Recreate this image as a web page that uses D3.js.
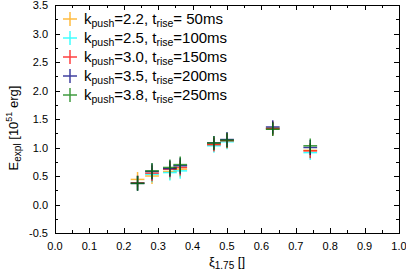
<!DOCTYPE html>
<html>
<head>
<meta charset="utf-8">
<script src="https://cdn.jsdelivr.net/npm/d3@7"></script>
<style>
  body { margin: 0; background: #fff; }
  svg { font-family: "Liberation Sans", Arial, sans-serif; }
</style>
</head>
<body>
<svg id="chart" width="406" height="271"></svg>
<script>
// compactness xi_1.75 of each progenitor
const xi = [0.240, 0.282, 0.334, 0.364, 0.462, 0.500, 0.633, 0.742]

const seriesNames = [
  ['2.2', '\u00a050'], ['2.5', '100'], ['3.0', '150'], ['3.5', '200'], ['3.8', '250']
]
const seriesColors = ['#ffa500', '#00ffff', '#ff0000', '#000080', '#007a00']

// explosion energies [10^51 erg], one list per (k_push, t_rise)
const eK22 = [0.44, 0.50, 0.58, 0.62, 1.06, 1.11, 1.34, 0.95]
const eK25 = [0.38, 0.53, 0.56, 0.59, 1.03, 1.10, 1.33, 0.91]
const eK30 = [0.38, 0.55, 0.62, 0.65, 1.05, 1.12, 1.33, 0.94]
const eK35 = [0.37, 0.58, 0.63, 0.68, 1.08, 1.14, 1.36, 1.00]
const eK38 = [0.37, 0.59, 0.65, 0.70, 1.08, 1.13, 1.32, 1.03]
const energies = [eK22, eK25, eK30, eK35, eK38]

const xErr = [0.02, 0.02, 0.02, 0.02, 0.02, 0.02, 0.02, 0.02]
const yErr = [0.13, 0.14, 0.14, 0.14, 0.12, 0.13, 0.12, 0.13]

const xTicks = [0, 0.1, 0.2, 0.3, 0.4, 0.5, 0.6, 0.7, 0.8, 0.9, 1.0]
const yTicks = [-0.5, 0, 0.5, 1.0, 1.5, 2.0, 2.5, 3.0, 3.5]

const svg = d3.select('#chart')
const margin = { left: 55, right: 7, top: 5, bottom: 38 }
const width = 406, height = 271

const x = d3.scaleLinear().domain([0, 1]).range([margin.left, width - margin.right])
const y = d3.scaleLinear().domain([-0.5, 3.5]).range([height - margin.bottom, margin.top])

// ticks on all four sides, pointing inward
const xMinor = d3.range(0, 1.0001, 0.05)
const yMinor = d3.range(-0.5, 3.5001, 0.25)
const ticks = svg.append('g').attr('stroke', '#000').attr('stroke-width', 1)

xMinor.forEach((v, i) => {
  const len = i % 2 === 0 ? 5 : 3
  const px = Math.round(x(v)) + 0.5
  ticks.append('line').attr('x1', px).attr('x2', px).attr('y1', y(-0.5)).attr('y2', y(-0.5) - len)
  ticks.append('line').attr('x1', px).attr('x2', px).attr('y1', y(3.5)).attr('y2', y(3.5) + len)
})
yMinor.forEach((v, i) => {
  const len = i % 2 === 0 ? 5 : 3
  const py = Math.round(y(v)) + 0.5
  ticks.append('line').attr('x1', x(0)).attr('x2', x(0) + len).attr('y1', py).attr('y2', py)
  ticks.append('line').attr('x1', x(1)).attr('x2', x(1) - len).attr('y1', py).attr('y2', py)
})

svg.append('rect')
  .attr('x', x(0) + 0.5).attr('y', y(3.5) + 0.5)
  .attr('width', x(1) - x(0)).attr('height', y(-0.5) - y(3.5))
  .attr('fill', 'none').attr('stroke', '#000')

svg.append('g').selectAll('text').data(xTicks).enter().append('text')
  .attr('x', d => x(d)).attr('y', y(-0.5) + 17)
  .attr('text-anchor', 'middle').attr('font-size', 11)
  .text(d => d.toFixed(1))

svg.append('g').selectAll('text').data(yTicks).enter().append('text')
  .attr('x', x(0) - 7).attr('y', d => y(d) + 4)
  .attr('text-anchor', 'end').attr('font-size', 11)
  .text(d => d.toFixed(1))

// axis titles
const xt = svg.append('text').attr('x', 227).attr('y', 266).attr('font-size', 13).attr('text-anchor', 'middle')
xt.append('tspan').text('ξ')
xt.append('tspan').attr('dy', 3).attr('font-size', 10).text('1.75')
xt.append('tspan').attr('dy', -3).text(' []')

const yt = svg.append('text').attr('transform', `translate(18,128) rotate(-90)`)
  .attr('font-size', 13).attr('text-anchor', 'middle')
yt.append('tspan').text('E')
yt.append('tspan').attr('dy', 3).attr('font-size', 10).text('expl')
yt.append('tspan').attr('dy', -3).text(' [10')
yt.append('tspan').attr('dy', -6).attr('font-size', 9).text('51')
yt.append('tspan').attr('dy', 6).text(' erg]')

// error crosses
energies.forEach((vals, s) => {
  const g = svg.append('g').attr('stroke', seriesColors[s]).attr('stroke-width', 1.5).attr('opacity', 0.75)
  vals.forEach((e, i) => {
    g.append('line').attr('x1', x(xi[i] - xErr[i])).attr('x2', x(xi[i] + xErr[i]))
      .attr('y1', y(e)).attr('y2', y(e))
    g.append('line').attr('x1', x(xi[i])).attr('x2', x(xi[i]))
      .attr('y1', y(e - yErr[i])).attr('y2', y(e + yErr[i]))
  })
})

// legend
const legend = svg.append('g')
seriesNames.forEach((n, i) => {
  const cy = 19 + i * 19
  const lg = legend.append('g').attr('stroke', seriesColors[i]).attr('stroke-width', 1.5).attr('opacity', 0.75)
  lg.append('line').attr('x1', 63).attr('x2', 77).attr('y1', cy).attr('y2', cy)
  lg.append('line').attr('x1', 70).attr('x2', 70).attr('y1', cy - 7).attr('y2', cy + 7)
  const t = legend.append('text').attr('x', 84).attr('y', cy + 5).attr('font-size', 15)
  t.append('tspan').text('k')
  t.append('tspan').attr('dy', 3).attr('font-size', 10.5).text('push')
  t.append('tspan').attr('dy', -3).text('=' + n[0] + ', t')
  t.append('tspan').attr('dy', 3).attr('font-size', 10.5).text('rise')
  t.append('tspan').attr('dy', -3).text('=' + n[1] + 'ms')
})
</script>
</body>
</html>
